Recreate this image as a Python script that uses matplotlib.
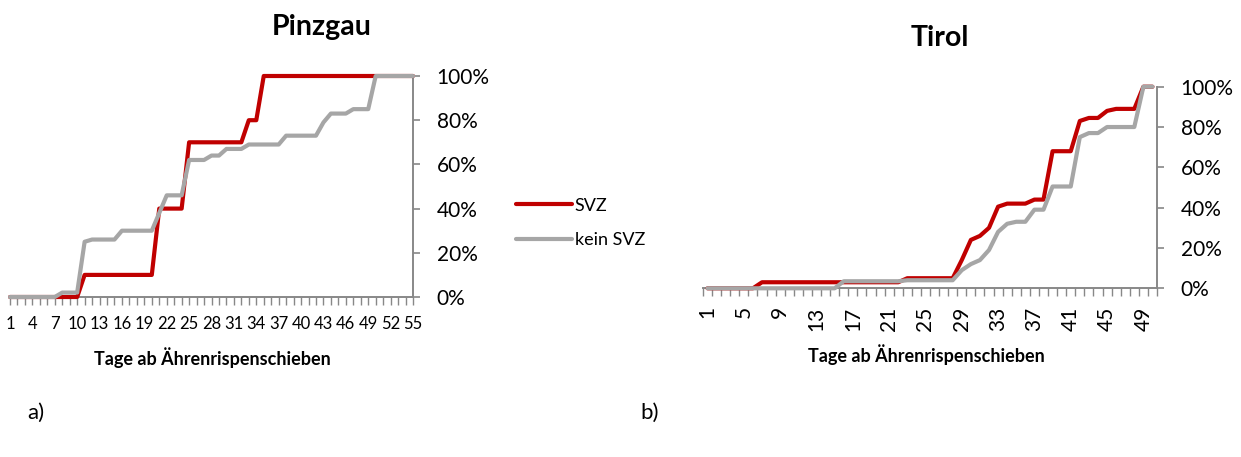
import numpy as np
import matplotlib
matplotlib.use("Agg")
import matplotlib.pyplot as plt
from matplotlib.ticker import PercentFormatter, FixedLocator

plt.rcParams['font.family'] = ['Lato', 'DejaVu Sans']

# Pinzgau, days 1..55, cumulative share in %
days_pinzgau = np.arange(1, 56)
svz_pinzgau = [0]*10 + [10]*10 + [40]*4 + [70]*8 + [80]*2 + [100]*21
kein_pinzgau = ([0]*7 + [2]*3 + [25] + [26]*4 + [30]*5 + [38] + [46]*3 + [62]*3
                + [64]*2 + [67]*3 + [69]*5 + [73]*5 + [79] + [83]*3 + [85]*3 + [100]*6)

# Tirol, days 1..50
days_tirol = np.arange(1, 51)
svz_tirol = ([0]*6 + [3]*16 + [5]*6 + [14, 24, 26, 30, 40.5, 42, 42, 42, 44, 44,
             68, 68, 68, 83, 84.5, 84.5, 88, 89, 89, 89, 100, 100])
kein_tirol = ([0]*15 + [3.5]*7 + [4]*6 + [9, 12, 14, 19, 28, 32, 33, 33, 39, 39,
              50.5, 50.5, 50.5, 75, 77, 77, 80, 80, 80, 80, 100, 100])

RED = '#C00000'
GREY = '#A6A6A6'
AXC = '#888888'

W, H = 1241, 457
fig = plt.figure(figsize=(W/100, H/100), dpi=100)


def px_axes(x0, x1, ytop, ybot):
    return fig.add_axes([x0/W, 1 - ybot/H, (x1 - x0)/W, (ybot - ytop)/H])


def style(ax):
    for s in ['top', 'left']:
        ax.spines[s].set_visible(False)
    for s in ['bottom', 'right']:
        ax.spines[s].set_color(AXC)
        ax.spines[s].set_linewidth(1.4)
    ax.yaxis.tick_right()
    ax.set_ylim(0, 100)
    ax.yaxis.set_major_locator(FixedLocator([0, 20, 40, 60, 80, 100]))
    ax.yaxis.set_major_formatter(PercentFormatter(100, decimals=0))
    ax.tick_params(axis='y', colors=AXC, labelcolor='black', length=5,
                   width=1.2, labelsize=15, pad=12)
    ax.tick_params(axis='x', which='both', colors=AXC, labelcolor='black',
                   width=1.0)


# a) Pinzgau
ax1 = px_axes(10, 413, 76, 297)
style(ax1)
ax1.plot(days_pinzgau, svz_pinzgau, color=RED, lw=3, label='SVZ',
         solid_joinstyle='round', solid_capstyle='round', zorder=3)
ax1.plot(days_pinzgau, kein_pinzgau, color=GREY, lw=3, label='kein SVZ',
         solid_joinstyle='round', solid_capstyle='round', zorder=4)
ax1.set_xlim(1, 55)
ax1.set_xticks(days_pinzgau[::3])
ax1.set_xticks(days_pinzgau, minor=True)
ax1.tick_params(axis='x', which='both', length=6, labelsize=12, pad=8)

# b) Tirol
ax2 = px_axes(703, 1157, 86.7, 288.3)
style(ax2)
ax2.plot(days_tirol, svz_tirol, color=RED, lw=3,
         solid_joinstyle='round', solid_capstyle='round', zorder=3)
ax2.plot(days_tirol, kein_tirol, color=GREY, lw=3,
         solid_joinstyle='round', solid_capstyle='round', zorder=4)
ax2.set_xlim(0.5, 50.5)
ax2.set_xticks(days_tirol[::4])
ax2.set_xticks(np.arange(0.5, 51, 1), minor=True)
ax2.tick_params(axis='x', which='major', length=0, labelsize=15, pad=13,
                labelrotation=90)
ax2.tick_params(axis='x', which='minor', length=6)

for ax in (ax1, ax2):
    for ln in ax.lines:
        ln.set_clip_on(False)

# titles and labels
fig.text(322/W, 1 - 27/H, 'Pinzgau', ha='center', va='center',
         fontsize=20.5, fontweight='bold')
fig.text(940/W, 1 - 38/H, 'Tirol', ha='center', va='center',
         fontsize=20.5, fontweight='bold')
fig.text(212/W, 1 - 358/H, 'Tage ab Ährenrispenschieben', ha='center',
         va='center', fontsize=13, fontweight='bold')
fig.text(926/W, 1 - 355/H, 'Tage ab Ährenrispenschieben', ha='center',
         va='center', fontsize=13, fontweight='bold')
fig.text(27/W, 1 - 413/H, 'a)', ha='left', va='center', fontsize=16)
fig.text(640/W, 1 - 413/H, 'b)', ha='left', va='center', fontsize=16)

# legend
handles, labels = ax1.get_legend_handles_labels()
fig.legend(handles, labels, loc='center left',
           bbox_to_anchor=(516/W, 1 - 223/H), frameon=False, fontsize=13,
           handlelength=3.1, handletextpad=0.15, labelspacing=1.05,
           borderpad=0, borderaxespad=0)

fig.savefig('out.png', dpi=100)
